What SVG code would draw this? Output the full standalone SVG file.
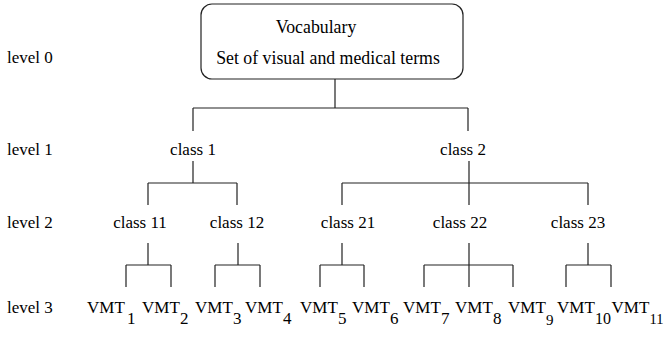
<svg xmlns="http://www.w3.org/2000/svg" width="664" height="339" viewBox="0 0 664 339">
<style>
text{font-family:"Liberation Serif","Times New Roman",serif;font-size:17px;fill:#000}
.m{text-anchor:middle}
.b{font-size:17.8px}
.ln{stroke:#222;stroke-width:1.2;fill:none}
</style>
<rect width="664" height="339" fill="#fff"/>
<g id="levels">
<text x="7" y="63">level 0</text>
<text x="7" y="155">level 1</text>
<text x="7" y="228">level 2</text>
<text x="7" y="313">level 3</text>
</g>
<g id="root">
<rect x="201" y="4" width="262" height="75" rx="11" ry="11" fill="#fff" stroke="#222" stroke-width="1.2"/>
<text class="m b" x="316" y="33">Vocabulary</text>
<text class="m b" x="328" y="64">Set of visual and medical terms</text>
</g>
<g id="class1"><text class="m" x="193" y="155">class 1</text></g>
<g id="class2"><text class="m" x="463" y="155">class 2</text></g>
<g id="class11"><text class="m" x="140" y="228">class 11</text></g>
<g id="class12"><text class="m" x="237" y="228">class 12</text></g>
<g id="class21"><text class="m" x="348" y="228">class 21</text></g>
<g id="class22"><text class="m" x="460" y="228">class 22</text></g>
<g id="class23"><text class="m" x="578" y="228">class 23</text></g>
<g id="vmt1"><text x="87" y="313">VMT</text><text x="127" y="324">1</text></g>
<g id="vmt2"><text x="142" y="313">VMT</text><text x="180" y="324">2</text></g>
<g id="vmt3"><text x="195" y="313">VMT</text><text x="233" y="324">3</text></g>
<g id="vmt4"><text x="245" y="313">VMT</text><text x="283" y="324">4</text></g>
<g id="vmt5"><text x="300" y="313">VMT</text><text x="338" y="324">5</text></g>
<g id="vmt6"><text x="352" y="313">VMT</text><text x="390" y="324">6</text></g>
<g id="vmt7"><text x="403" y="313">VMT</text><text x="441" y="324">7</text></g>
<g id="vmt8"><text x="455" y="313">VMT</text><text x="493" y="324">8</text></g>
<g id="vmt9"><text x="508" y="313">VMT</text><text x="546" y="325" style="font-size:15px">9</text></g>
<g id="vmt10"><text x="557" y="313">VMT</text><text x="595" y="324" style="font-size:16px">10</text></g>
<g id="vmt11"><text x="611.5" y="313">VMT</text><text x="649.5" y="324" style="font-size:14.5px">11</text></g>
<g id="connectors" class="ln">
<path d="M335 79V108M193 108H468M193 108V131M468 108V131"/>
<path d="M193 161V183M148 183H237M148 183V205M237 183V205"/>
<path d="M469 161V183M342 183H588M342 183V205M469 183V205M588 183V205"/>
<path d="M148 243V265M126 265H171M126 265V287M171 265V287"/>
<path d="M238 243V265M215 265H260M215 265V287M260 265V287"/>
<path d="M342 243V265M320 265H364M320 265V287M364 265V287"/>
<path d="M469 243V265M424 265H513M424 265V287M469 265V287M513 265V287"/>
<path d="M588 243V265M566 265H611M566 265V287M611 265V287"/>
</g>
</svg>
